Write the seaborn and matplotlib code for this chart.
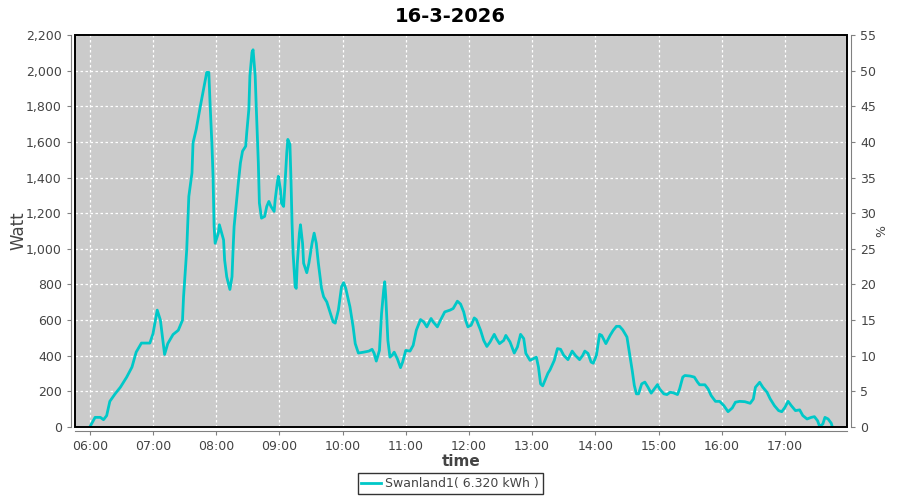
import matplotlib
matplotlib.use("Agg")
import matplotlib.pyplot as plt
import matplotlib.dates as mdates
from matplotlib.patches import Rectangle
import seaborn as sns
import pandas as pd

# readings of 16-3-2026
times = [
    "06:00", "06:05", "06:10", "06:13", "06:16", "06:19", "06:24", "06:29", "06:35", "06:40",
    "06:44", "06:49", "06:57", "07:00", "07:04", "07:07", "07:11", "07:14", "07:19", "07:24",
    "07:28", "07:29", "07:32", "07:34", "07:37", "07:38", "07:41", "07:45", "07:48", "07:51",
    "07:53", "07:54", "07:56", "07:57", "07:58", "07:59", "08:02", "08:03", "08:07", "08:08",
    "08:10", "08:13", "08:15", "08:16", "08:17", "08:21", "08:23", "08:25", "08:28", "08:29",
    "08:31", "08:32", "08:34", "08:35", "08:37", "08:38", "08:40", "08:41", "08:43", "08:46",
    "08:48", "08:50", "08:52", "08:55", "08:56", "08:58", "08:59", "09:01", "09:02", "09:04",
    "09:05", "09:07", "09:08", "09:10", "09:11", "09:12", "09:13", "09:15", "09:16", "09:17",
    "09:19", "09:20", "09:22", "09:23", "09:26", "09:28", "09:31", "09:33", "09:35", "09:37",
    "09:40", "09:42", "09:45", "09:48", "09:51", "09:53", "09:56", "09:59", "10:01", "10:03",
    "10:07", "10:10", "10:12", "10:15", "10:20", "10:25", "10:28", "10:30", "10:32", "10:35",
    "10:37", "10:39", "10:40", "10:41", "10:43", "10:45", "10:47", "10:49", "10:52", "10:55",
    "10:57", "11:00", "11:04", "11:07", "11:10", "11:14", "11:17", "11:20", "11:24", "11:26",
    "11:30", "11:33", "11:37", "11:42", "11:45", "11:49", "11:52", "11:55", "11:57", "11:59",
    "12:02", "12:05", "12:07", "12:11", "12:14", "12:17", "12:20", "12:24", "12:26", "12:29",
    "12:33", "12:35", "12:39", "12:43", "12:46", "12:49", "12:52", "12:54", "12:58", "13:01",
    "13:04", "13:06", "13:08", "13:10", "13:12", "13:15", "13:17", "13:21", "13:24", "13:27",
    "13:30", "13:34", "13:36", "13:38", "13:41", "13:45", "13:48", "13:50", "13:53", "13:56",
    "13:58", "14:01", "14:04", "14:06", "14:10", "14:14", "14:17", "14:20", "14:23", "14:26",
    "14:30", "14:32", "14:35", "14:37", "14:39", "14:41", "14:44", "14:47", "14:50", "14:53",
    "14:56", "14:59", "15:01", "15:05", "15:08", "15:11", "15:14", "15:18", "15:20", "15:23",
    "15:25", "15:30", "15:34", "15:37", "15:39", "15:44", "15:47", "15:50", "15:54", "15:58",
    "16:02", "16:06", "16:10", "16:13", "16:17", "16:22", "16:27", "16:30", "16:32", "16:36",
    "16:39", "16:43", "16:46", "16:50", "16:54", "16:57", "17:00", "17:03", "17:06", "17:10",
    "17:14", "17:17", "17:21", "17:25", "17:28", "17:31", "17:33", "17:36", "17:38", "17:41",
    "17:44", "17:45",
]
watt = [
    0, 54, 54, 41, 64, 144, 186, 223, 280, 336,
    420, 471, 471, 524, 656, 600, 407, 468, 519, 543,
    600, 731, 994, 1294, 1426, 1595, 1670, 1802, 1896, 1990,
    1990, 1839, 1576, 1407, 1125, 1031, 1088, 1135, 1050, 937,
    843, 772, 843, 994, 1125, 1370, 1482, 1548, 1576, 1652,
    1783, 1971, 2103, 2117, 1971, 1802, 1482, 1257, 1172, 1182,
    1238, 1266, 1238, 1210, 1276, 1370, 1407, 1332, 1257, 1238,
    1332, 1539, 1614, 1586, 1388, 1144, 975, 787, 778, 919,
    1088, 1135, 1031, 919, 866, 919, 1031, 1088, 1031, 919,
    778, 731, 702, 646, 590, 583, 656, 787, 810, 778,
    674, 562, 468, 415, 420, 426, 436, 413, 370, 430,
    637, 768, 815, 731, 486, 392, 402, 420, 383, 333,
    364, 430, 426, 458, 543, 603, 590, 562, 609, 590,
    562, 600, 646, 656, 665, 706, 690, 646, 596, 562,
    571, 612, 603, 543, 486, 452, 477, 520, 496, 468,
    486, 514, 477, 415, 449, 520, 496, 413, 374, 383,
    392, 336, 242, 231, 260, 302, 321, 374, 440, 436,
    402, 378, 402, 426, 402, 378, 402, 426, 413, 364,
    358, 402, 520, 514, 468, 514, 543, 565, 565, 545,
    505, 430, 317, 233, 186, 186, 242, 252, 223, 190,
    214, 238, 214, 186, 182, 195, 192, 182, 214, 280,
    289, 286, 280, 252, 237, 237, 214, 176, 144, 144,
    120, 86, 107, 139, 144, 142, 133, 157, 223, 251,
    223, 195, 158, 120, 92, 86, 110, 144, 120, 92,
    96, 64, 45, 54, 58, 35, 2, 17, 54, 45,
    21, 0,
]
series_label = "Swanland1( 6.320 kWh )"
title = "16-3-2026"

df = pd.DataFrame({
    "time": pd.to_datetime(["2026-03-16 " + t for t in times]),
    "watt": watt,
})

line_color = "#00c8c8"
grey = "#808080"
text_color = "#444444"

fig = plt.figure(figsize=(9, 5), dpi=100)
ax = fig.add_axes([0.0833, 0.146, 0.858, 0.784])
ax.set_facecolor("#cbcbcb")

sns.lineplot(data=df, x="time", y="watt", ax=ax, color=line_color,
             linewidth=2, estimator=None, label=series_label, zorder=3)

ax.margins(x=0.02)
ax.set_ylim(0, 2200)
ax.set_yticks(range(0, 2201, 200))
ax.yaxis.set_major_formatter(matplotlib.ticker.StrMethodFormatter("{x:,.0f}"))
ax.xaxis.set_major_locator(mdates.HourLocator())
ax.xaxis.set_major_formatter(mdates.DateFormatter("%H:%M"))

ax.grid(True, color="white", linestyle=(0, (2, 2)), linewidth=0.9)
ax.set_axisbelow(True)

for side in ["top", "right"]:
    ax.spines[side].set_visible(False)
for side in ["left", "bottom"]:
    ax.spines[side].set_position(("outward", 3))
    ax.spines[side].set_color(grey)
ax.tick_params(colors=grey, labelcolor=text_color, labelsize=9, length=3)

ax.add_patch(Rectangle((0, 0), 1, 1, transform=ax.transAxes, fill=False,
                       edgecolor="black", linewidth=1.4, clip_on=False, zorder=5))

ax.set_xlabel("time", fontsize=11, fontweight="bold", color=text_color)
ax.xaxis.set_label_coords(0.5, -0.07)
ax.set_ylabel("Watt", fontsize=12, color=text_color)
ax.yaxis.set_label_coords(-0.061, 0.5)

ax2 = ax.twinx()
ax2.set_ylim(0, 55)
ax2.set_yticks(range(0, 56, 5))
for side in ["top", "left", "bottom"]:
    ax2.spines[side].set_visible(False)
ax2.spines["right"].set_position(("outward", 3))
ax2.spines["right"].set_color(grey)
ax2.tick_params(colors=grey, labelcolor=text_color, labelsize=9, length=3)
ax2.set_ylabel("%", fontsize=9, color=text_color)
ax2.yaxis.set_label_coords(1.036, 0.5)

ax.get_legend().remove()
handles, labels = ax.get_legend_handles_labels()
leg = fig.legend(handles, labels, loc="lower center", bbox_to_anchor=(0.5, 0.0),
                 frameon=True, fancybox=False, fontsize=9, handlelength=1.6,
                 handletextpad=0.3, borderpad=0.3, edgecolor="black")
leg.get_frame().set_linewidth(1.0)
for t in leg.get_texts():
    t.set_color(text_color)

fig.suptitle(title, fontsize=14, fontweight="bold", y=0.985)

fig.savefig("out.png", dpi=100)
